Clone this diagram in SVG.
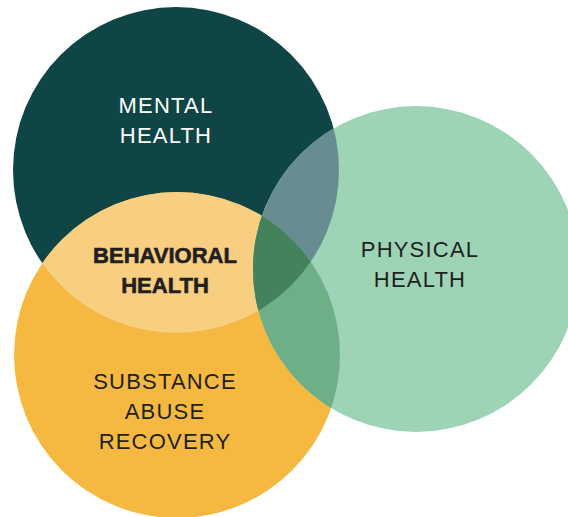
<svg xmlns="http://www.w3.org/2000/svg" width="568" height="517" viewBox="0 0 568 517">
  <style>
    .lbl { font-family: "Liberation Sans", Arial, sans-serif; font-size: 22px; text-anchor: middle; letter-spacing: 1.2px; }
    .white { fill: #ffffff; }
    .dark { fill: #231f20; }
    .bold { font-weight: bold; letter-spacing: 0px; stroke: #231f20; stroke-width: 0.6px; }
  </style>
  <defs>
    <clipPath id="clipT"><circle cx="176" cy="170" r="163"/></clipPath>
    <clipPath id="clipO"><circle cx="177" cy="355" r="163"/></clipPath>
  </defs>
  <g id="mental-health">
    <circle cx="176" cy="170" r="163" fill="#0f4545"/>
  </g>
  <g id="substance-abuse-recovery">
    <circle cx="177" cy="355" r="163" fill="#f5b942"/>
  </g>
  <g id="behavioral-health">
    <g clip-path="url(#clipT)">
      <circle cx="177" cy="355" r="163" fill="#f8ce80"/>
    </g>
  </g>
  <g id="physical-health">
    <circle cx="416" cy="269" r="163" fill="#9ed4b6"/>
    <g clip-path="url(#clipT)">
      <circle cx="416" cy="269" r="163" fill="#678d93"/>
    </g>
    <g clip-path="url(#clipO)">
      <circle cx="416" cy="269" r="163" fill="#6faf87"/>
    </g>
    <g clip-path="url(#clipO)">
      <g clip-path="url(#clipT)">
        <circle cx="416" cy="269" r="163" fill="#43825b"/>
      </g>
    </g>
  </g>
  <g id="labels">
    <text class="lbl white" x="166" y="113">MENTAL</text>
    <text class="lbl white" x="166" y="143">HEALTH</text>
    <text class="lbl dark bold" x="165" y="263">BEHAVIORAL</text>
    <text class="lbl dark bold" x="165" y="293">HEALTH</text>
    <text class="lbl dark" x="420" y="257">PHYSICAL</text>
    <text class="lbl dark" x="420" y="287">HEALTH</text>
    <text class="lbl dark" x="165" y="389">SUBSTANCE</text>
    <text class="lbl dark" x="165" y="419">ABUSE</text>
    <text class="lbl dark" x="165" y="449">RECOVERY</text>
  </g>
</svg>
